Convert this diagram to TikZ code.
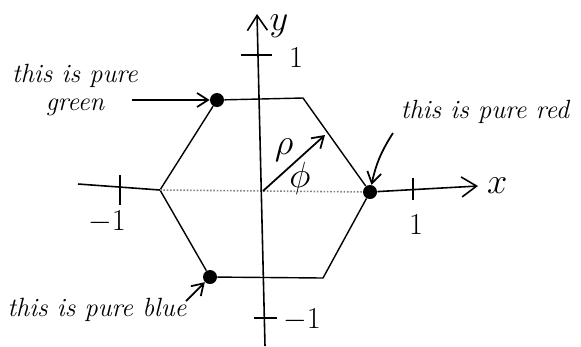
\documentclass[tikz,border=0pt]{standalone}
\usepackage{amsmath,amssymb}
\usepackage{tikz}
\usetikzlibrary{arrows.meta,positioning,calc}

\begin{document}
\begin{tikzpicture}[x=0.02cm, y=-0.02cm,
    dot/.style={circle, fill=black, inner sep=0pt, minimum size=0.28cm},
    lbl/.style={font=\fontsize{15}{16}\selectfont\itshape, align=center, inner sep=1pt},
    num/.style={font=\fontsize{18}{18}\selectfont, inner sep=1pt},
    var/.style={font=\fontsize{22}{22}\selectfont, inner sep=1pt},
    arr/.style={-{Straight Barb[length=2.2mm, width=2.8mm]}, line width=1pt},
    axis/.style={line width=0.9pt},
    edge/.style={line width=0.8pt}
]
\useasboundingbox (0,0) rectangle (581,346);

% hexagon corners and origin
\coordinate (O) at (263,191);
\coordinate (tr) at (303,98);
\coordinate (lf) at (160,190);
\coordinate (br) at (323,278);
\node[dot] (red) at (370,192) {};
\node[dot] (green) at (217,100) {};
\node[dot] (blue) at (210,277) {};

\draw[edge] (green) -- (tr) -- (red) -- (br) -- (blue) -- (lf) -- (green);

% axes
\coordinate (xl) at (78,184);
\coordinate (xr) at (478,186);
\coordinate (yb) at (265,346);
\coordinate (yt) at (257,14);
\draw[axis] (xl) -- (lf);
\draw[axis, densely dotted, gray] (lf) -- (red);
\draw[axis, -{Straight Barb[length=3mm, width=4mm]}] (red) -- (xr);
\draw[axis, -{Straight Barb[length=3mm, width=4mm]}] (yb) -- (yt);
\node[var, right=4pt of xr] (xlab) {$x$};
\node[var] (ylab) at (279,26) {$y$};

% ticks
\draw[axis] (120,175) -- (120,205);
\draw[axis] (413,178) -- (413,200);
\draw[axis] (241,55) -- (272,55);
\draw[axis] (254,318) -- (277,318);
\node[num] (xm) at (107,222) {$-1$};
\node[num] (xp) at (416,225) {$1$};
\node[num] (yp) at (296,58) {$1$};
\node[num] (ym) at (302,320) {$-1$};

% polar radius
\coordinate (tip) at (325,135);
\draw[arr] (O) -- (tip);
\node[var] (rho) at (284,150) {$\rho$};
\node[var] (phi) at (300,178) {$\phi$};

% labels
\node[lbl] (glab) at (75,90) {this is pure\\green};
\node[lbl] (rlab) at (485,112) {this is pure red};
\node[lbl] (blab) at (97,310) {this is pure blue};
\coordinate (gs) at (132,100);
\coordinate (rs) at (393,133);
\coordinate (bs) at (186,301);
\draw[arr] (gs) -- (green);
\draw[arr] (rs) to[bend right=10] (red);
\draw[arr] (bs) -- (blue);
\end{tikzpicture}
\end{document}
